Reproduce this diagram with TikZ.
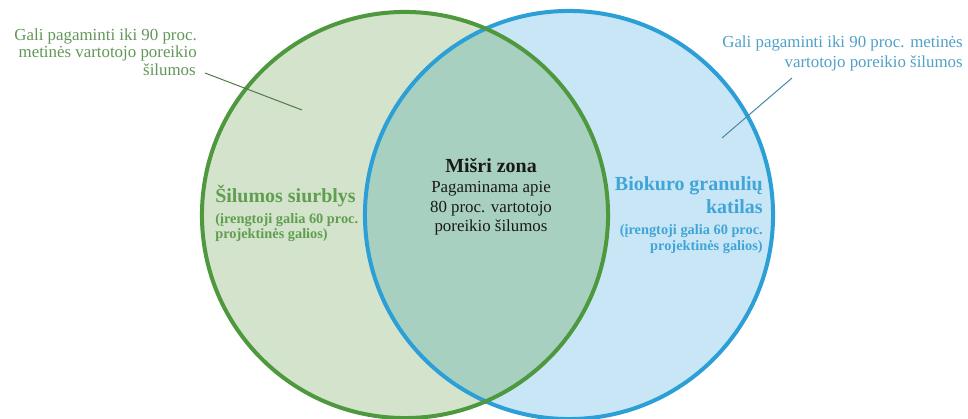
\documentclass[tikz,border=0pt]{standalone}
\usepackage{fontspec}
\setmainfont{Liberation Serif}
\definecolor{greenLine}{RGB}{78,152,62}
\definecolor{blueLine}{RGB}{44,160,214}
\definecolor{greenFill}{RGB}{212,228,204}
\definecolor{blueFill}{RGB}{201,230,246}
\definecolor{mixFill}{RGB}{168,208,192}
\definecolor{noteGreen}{RGB}{98,150,88}
\definecolor{labGreen}{RGB}{96,158,80}
\definecolor{noteBlue}{RGB}{80,160,200}
\definecolor{labBlue}{RGB}{64,165,215}
\begin{document}
\begin{tikzpicture}[x=0.025cm,y=-0.025cm,
% common options for the two circles:
ring/.style = {line width=2.85pt},
% common options for the texts:
note/.style = {inner sep=0, font=\fontsize{12}{12}\selectfont},
title/.style = {inner sep=0, font=\fontsize{14.2}{14}\selectfont\bfseries},
small/.style = {inner sep=0, font=\fontsize{10.2}{10}\selectfont\bfseries},
lead/.style = {line width=0.7pt}]
\useasboundingbox (0,0) rectangle (968,419);
\coordinate (G) at (405,215);
\coordinate (B) at (569,215);
\fill[blueFill] (B) circle[radius=5.1cm];
\fill[greenFill] (G) circle[radius=5.075cm];
\begin{scope}
\clip (G) circle[radius=5.075cm];
\fill[mixFill] (B) circle[radius=5.1cm];
\end{scope}
\draw[ring, blueLine] (B) circle[radius=5.1cm];
\draw[ring, greenLine] (G) circle[radius=5.075cm];
% notes
\node[note, noteGreen, anchor=base east] (gn1) at (197,40.7) {Gali pagaminti iki 90 proc.};
\node[note, noteGreen, anchor=base east] (gn2) at (197,58) {metinės vartotojo poreikio};
\node[note, noteGreen, anchor=base east] (gn3) at (196,76) {šilumos};
\node[note, noteBlue, anchor=base east] (bn1) at (963,48) {Gali pagaminti iki 90 proc. metinės};
\node[note, noteBlue, anchor=base east] (bn2) at (963,68) {vartotojo poreikio šilumos};
\coordinate (gfrom) at (205,73);
\coordinate (gto) at (302,110);
\coordinate (bfrom) at (792,78);
\coordinate (bto) at (722,138);
\draw[lead, noteGreen!80!black] (gfrom) -- (gto);
\draw[lead, noteBlue!85!black] (bfrom) -- (bto);
% green side
\node[title, labGreen, anchor=base west] (gl1) at (215,203) {Šilumos siurblys};
\node[small, labGreen, anchor=base west] (gl2) at (215,224) {(įrengtoji galia 60 proc.};
\node[small, labGreen, anchor=base west] (gl3) at (215,239) {projektinės galios)};
% middle
\node[title, black!90, anchor=base] (m1) at (491,173) {Mišri zona};
\node[note, black!90, anchor=base] (m2) at (491,193) {Pagaminama apie};
\node[note, black!90, anchor=base] (m3) at (491,213) {80 proc. vartotojo};
\node[note, black!90, anchor=base] (m4) at (491,232) {poreikio šilumos};
% blue side
\node[title, labBlue, anchor=base east] (bl1) at (763,191) {Biokuro granulių};
\node[title, labBlue, anchor=base east] (bl2) at (763,214) {katilas};
\node[small, labBlue, anchor=base east] (bl3) at (763,235) {(įrengtoji galia 60 proc.};
\node[small, labBlue, anchor=base east] (bl4) at (763,251) {projektinės galios)};
\end{tikzpicture}
\end{document}
